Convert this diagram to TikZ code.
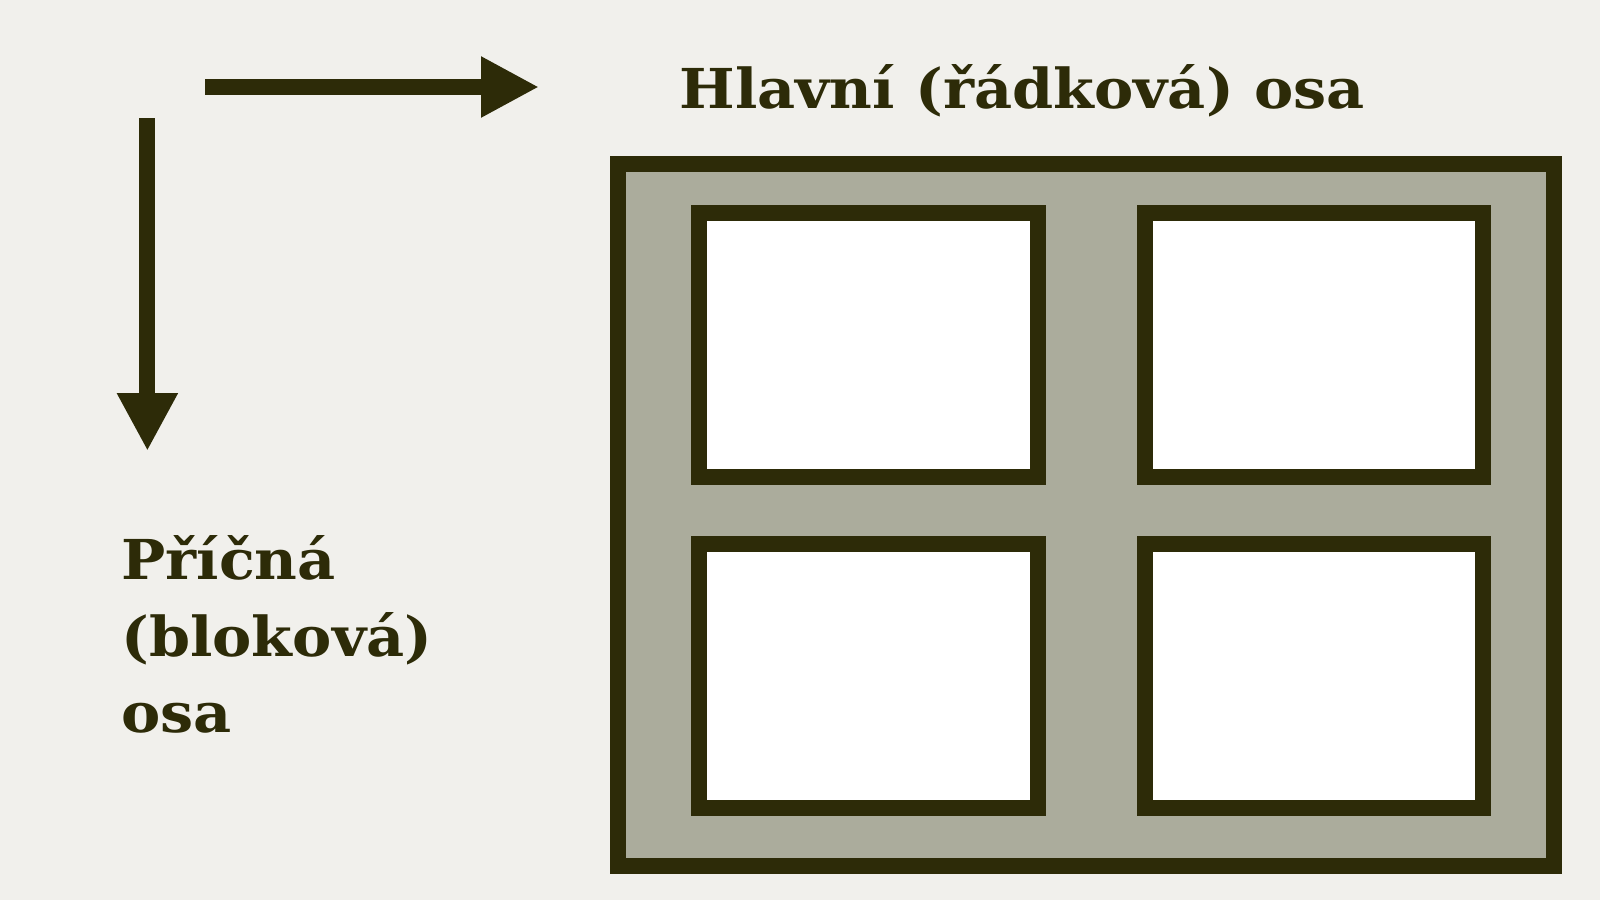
\documentclass[tikz,border=0pt]{standalone}
\usepackage{fontspec}
\setmainfont{DejaVu Serif}
\newfontfamily\labelfont[FakeStretch=1.07]{DejaVu Serif}
\usetikzlibrary{arrows.meta}
\definecolor{ink}{HTML}{2D2B08}
\definecolor{bgc}{HTML}{F1F0EC}
\definecolor{panel}{HTML}{ABAC9C}
\tikzset{
  cellbox/.style={draw=ink, fill=white, line width=16pt, minimum width=338.4pt, minimum height=264pt, inner sep=0pt, outer sep=0pt},
  outerbox/.style={draw=ink, fill=panel, line width=16pt, minimum width=935.7pt, minimum height=702pt, inner sep=0pt, outer sep=0pt},
  axisarrow/.style={draw=ink, line width=16pt, -{Triangle[width=57pt,length=58pt]}},
  lbl/.style={text=ink, font=\labelfont\bfseries\fontsize{55}{76.5}\selectfont, inner sep=0pt, outer sep=0pt}
}
\begin{document}
\begin{tikzpicture}[x=1pt,y=-1pt]
\fill[bgc] (0,0) rectangle (1600,900);
\useasboundingbox (0,0) rectangle (1600,900);
\node[outerbox] (frame) at (1085.85,514.7) {};
\node[cellbox] (c1) at (868.5,344.7) {};
\node[cellbox] (c2) at (1313.85,344.7) {};
\node[cellbox] (c3) at (868.5,676) {};
\node[cellbox] (c4) at (1313.85,676) {};
\coordinate (hs) at (205,87);
\coordinate (he) at (539,87);
\coordinate (vs) at (147.4,118);
\coordinate (ve) at (147.4,451);
\draw[axisarrow] (hs) -- (he);
\draw[axisarrow] (vs) -- (ve);
\node[lbl, anchor=base west] (main) at (679.6,108.2) {Hlavní (řádková) osa};
\node[lbl, anchor=base west, align=left] (cross) at (121.4,732.7) {Příčná\\(bloková)\\osa};
\end{tikzpicture}
\end{document}
